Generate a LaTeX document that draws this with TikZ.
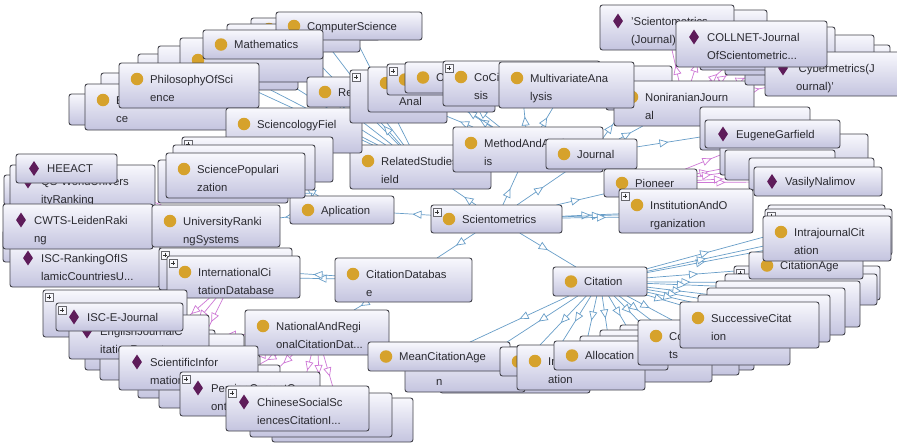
\documentclass[tikz,border=0pt]{standalone}
\usepackage{fontspec}
\setmainfont{Liberation Sans}
\usetikzlibrary{arrows.meta,decorations.markings,calc,shapes.geometric}
\pgfdeclarelayer{bglayer}
\pgfdeclarelayer{edges}
\pgfsetlayers{bglayer,edges,main}
\definecolor{boxtop}{RGB}{248,248,253}
\definecolor{boxbot}{RGB}{196,196,223}
\definecolor{boxline}{RGB}{66,66,74}
\definecolor{clsdot}{RGB}{214,162,44}
\definecolor{inddia}{RGB}{94,28,90}
\definecolor{subedge}{RGB}{104,158,200}
\definecolor{insedge}{RGB}{206,120,214}
\definecolor{txt}{RGB}{42,42,48}
\tikzset{
  obox/.style={rectangle, rounded corners=2.5pt, draw=boxline, line width=0.9pt,
    top color=boxtop, bottom color=boxbot, inner sep=0pt, outer sep=0pt},
  cls/.style={circle, fill=clsdot, minimum size=12.5pt, inner sep=0pt},
  ind/.style={diamond, fill=inddia, minimum width=10pt, minimum height=15pt, inner sep=0pt},
  lbl/.style={font=\fontsize{11.3}{13.6}\selectfont, text=txt, inner sep=0pt},
  plusbox/.style={rectangle, draw=boxline!80, line width=0.5pt, fill=boxtop,
    minimum size=8pt, inner sep=0pt,
    path picture={\draw[line width=0.7pt, black!80]
      ([xshift=1.7pt]path picture bounding box.west) -- ([xshift=-1.7pt]path picture bounding box.east)
      ([yshift=-1.7pt]path picture bounding box.north) -- ([yshift=1.7pt]path picture bounding box.south);}},
  sub/.style={draw=subedge, line width=0.7pt, postaction={decorate, decoration={markings,
    mark=at position 0.5 with {\arrow{Triangle[length=9pt,width=8pt,line width=0.7pt,color=subedge,fill=white]}}}}},
  ins/.style={draw=insedge, line width=0.7pt, postaction={decorate, decoration={markings,
    mark=at position 0.5 with {\arrow{Triangle[length=9pt,width=8pt,line width=0.7pt,color=insedge,fill=white]}}}}}
}
% name, x1, y1, x2, y2, icon style, line 1, line 2
\newcommand\cb[8]{%
  \node[obox, anchor=north west, minimum width={(#4-#2)*1pt}, minimum height={(#5-#3)*1pt}] (#1) at (#2,#3) {};
  \ifx&#8&\coordinate (#1-m) at (#2,{(#3+#5)/2});\else\coordinate (#1-m) at (#2,{#3+16});\fi
  \ifx&#6&\else\node[#6] (#1-i) at ($(#1-m)+(18,0)$) {};\fi
  \ifx&#7&\else\node[lbl, anchor=base west] (#1-a) at ($(#1-m)+(31,4.2)$) {#7};\fi
  \ifx&#8&\else\node[lbl, anchor=base west] (#1-b) at ($(#1-m)+(31,22.2)$) {#8};\fi
}
\newcommand\pb[1]{\node[plusbox] (#1-p) at ($(#1.north west)+(6,7)$) {};}
\begin{document}
\begin{tikzpicture}[x=1pt,y=-1pt]
\useasboundingbox (0,0) rectangle (897,445);
\begin{pgfonlayer}{bglayer}
\fill[white] (0,0) rectangle (897,445);
\end{pgfonlayer}

% ---------- top-left: related fields ----------
\cb{bgE}{138}{54}{278}{84}{}{}{}
\cb{bgD}{158}{46}{298}{90}{}{}{}
\cb{bgC}{180}{38}{323}{82}{cls}{}{}
\cb{bgB}{251}{18}{380}{40}{cls}{}{}
\cb{bgA}{227}{24}{360}{52}{}{}{}
\cb{CompSci}{276}{12}{422}{40}{cls}{ComputerScience}{}
\cb{Math}{203}{30}{323}{59}{cls}{Mathematics}{}
\cb{bgF}{101}{73}{235}{118}{}{}{}
\cb{bgG}{69}{94}{200}{125}{}{}{}
\cb{Ebox}{85}{84}{240}{130}{cls}{E}{ce}
\cb{Philo}{119}{63}{259}{108}{cls}{PhilosophyOfSci}{ence}
\cb{Related}{350}{145}{491}{189}{cls}{RelatedStudiesF}{ield}
\cb{Sciencology}{226}{108}{362}{153}{cls}{SciencologyFiel}{d}
\cb{Re}{307}{77}{400}{107}{cls}{Re}{}

% ---------- method and analysis stack ----------
\cb{stA}{350}{70}{447}{123}{}{}{}\pb{stA}
\cb{stB}{368}{67}{495}{112}{cls}{}{Anal}
\cb{stC}{387}{64}{450}{95}{cls}{}{}\pb{stC}
\cb{stD}{405}{62}{470}{93}{cls}{C}{}
\cb{nalbox}{606}{66}{672}{110}{cls}{nal}{}
\cb{Noniranian}{614}{81}{754}{126}{cls}{NoniranianJourn}{al}
\cb{CoCi}{443}{61}{600}{106}{cls}{CoCi}{sis}\pb{CoCi}
\cb{Multi}{499}{62}{634}{108}{cls}{MultivariateAna}{lysis}
\cb{Method}{453}{127}{603}{172}{cls}{MethodAndAnalys}{is}
\cb{Journal}{546}{139}{637}{169}{cls}{Journal}{}

% ---------- top-right: journals and pioneers ----------
\cb{bgTRa}{650}{10}{767}{45}{}{}{}
\cb{SciJ}{600}{5}{734}{50}{ind}{'Scientometrics}{(Journal)'}
\cb{bgTRd}{745}{45}{890}{85}{}{}{}
\cb{bgTRc}{725}{35}{874}{75}{}{}{}
\cb{bgTRb}{700}{27}{835}{70}{}{}{}
\cb{Cyber}{765}{52}{905}{96}{ind}{'Cybermetrics(J}{ournal)'}
\cb{COLLNET}{676}{21}{827}{67}{ind}{COLLNET-Journal}{OfScientometric...}
\cb{bgJ}{700}{107}{810}{150}{}{}{}
\cb{bgEa}{720}{134}{868}{175}{}{}{}
\cb{Eugene}{705}{120}{840}{148}{ind}{EugeneGarfield}{}
\cb{bgVa}{725}{150}{835}{180}{}{}{}
\cb{bgVb}{749}{158}{874}{190}{}{}{}
\cb{Vasily}{754}{167}{882}{196}{ind}{VasilyNalimov}{}
\cb{Pioneer}{604}{169}{697}{197}{cls}{Pioneer}{}
\cb{bgIa}{640}{195}{740}{230}{}{}{}
\cb{bgIb}{650}{200}{745}{232}{}{}{}
\cb{Institution}{619}{189}{753}{233}{cls}{InstitutionAndO}{rganization}\pb{Institution}

% ---------- centre ----------
\cb{Scientometrics}{431}{205}{562}{233}{cls}{Scientometrics}{}\pb{Scientometrics}
\cb{Aplication}{290}{196}{394}{224}{cls}{Aplication}{}
\cb{CitDB}{335}{258}{472}{302}{cls}{CitationDatabas}{e}
\cb{Citation}{553}{267}{647}{296}{cls}{Citation}{}

% ---------- left: rankings and popularization ----------
\cb{bgLa}{4}{175}{150}{205}{}{}{}
\cb{QS}{10}{165}{155}{210}{ind}{QS-WorldUnivers}{ityRanking}
\cb{HEEACT}{16}{154}{117}{183}{ind}{HEEACT}{}
\cb{bgLb}{3}{230}{150}{262}{}{}{}
\cb{ISCRank}{10}{242}{160}{287}{ind}{ISC-RankingOfIS}{lamicCountriesU...}
\cb{CWTS}{3}{204}{153}{249}{ind}{CWTS-LeidenRaki}{ng}
\cb{Univ}{152}{205}{280}{247}{cls}{UniversityRanki}{ngSystems}
\cb{bgSa}{182}{137}{333}{182}{}{}{}\pb{bgSa}
\cb{bgSb}{173}{145}{315}{190}{}{}{}
\cb{bgSc}{158}{160}{288}{203}{}{}{}
\cb{SciPop}{166}{153}{305}{198}{cls}{SciencePopulari}{zation}
\cb{bgIntl}{159}{248}{292}{290}{}{}{}\pb{bgIntl}
\cb{Intl}{167}{256}{300}{298}{cls}{InternationalCi}{tationDatabase}\pb{Intl}

% ---------- bottom-left: citation databases ----------
\cb{bgP}{43}{290}{187}{337}{}{}{}\pb{bgP}
\cb{La}{85}{330}{215}{370}{}{}{}
\cb{Lb}{100}{340}{230}{380}{}{}{}
\cb{Lc}{138}{355}{260}{398}{}{}{}
\cb{Ld}{159}{365}{280}{408}{}{}{}
\cb{bgN}{150}{334}{244}{376}{}{}{}
\cb{EngJCR}{69}{315}{209}{359}{ind}{EnglishJournalC}{itationReports}
\cb{ISCE}{56}{303}{183}{331}{ind}{ISC-E-Journal}{}\pb{ISCE}
\cb{National}{245}{310}{389}{355}{cls}{NationalAndRegi}{onalCitationDat...}
\cb{SciInf}{119}{346}{258}{390}{ind}{ScientificInfor}{mation}
\cb{Persian}{180}{372}{320}{416}{ind}{PersianCurrentC}{ontents}\pb{Persian}
\cb{bgCb}{272}{398}{413}{442}{}{}{}
\cb{bgCa}{250}{393}{392}{437}{}{}{}
\cb{Chinese}{226}{386}{369}{431}{ind}{ChineseSocialSc}{iencesCitationI...}\pb{Chinese}

% ---------- right and bottom: citation kinds ----------
\cb{rPa}{734}{266}{880}{300}{}{}{}\pb{rPa}
\cb{rPb}{725}{274}{877}{305}{}{}{}
\cb{rPc}{716}{281}{860}{327}{}{}{}
\cb{rPd}{707}{288}{845}{335}{}{}{}
\cb{rPe}{698}{295}{830}{342}{}{}{}
\cb{CitAge}{749}{252}{863}{279}{cls}{CitationAge}{}
\cb{rRa}{768}{205}{885}{235}{}{}{}
\cb{rRb}{765}{209}{892}{255}{}{}{}\pb{rRb}
\cb{Intra}{763}{216}{891}{261}{cls}{IntrajournalCit}{ation}
\cb{bBg}{440}{350}{590}{393}{}{}{}
\cb{bBf}{405}{347}{525}{392}{cls}{}{n}
\cb{Mean}{368}{342}{510}{371}{cls}{MeanCitationAge}{}
\cb{bBe}{500}{347}{600}{376}{cls}{}{}
\cb{bBa}{620}{325}{754}{370}{}{}{}
\cb{bBb}{600}{330}{739}{375}{}{}{}
\cb{bBc}{580}{336}{712}{382}{}{}{}
\cb{Ination}{517}{345}{645}{390}{cls}{In}{ation}
\cb{Allocation}{554}{341}{668}{370}{cls}{Allocation}{}
\cb{Coots}{638}{320}{790}{365}{cls}{Co}{ts}
\cb{Successive}{680}{302}{819}{348}{cls}{SuccessiveCitat}{ion}

% ---------- connectors ----------
\begin{pgfonlayer}{edges}
\foreach \nn in {Aplication,Related,Method,Journal,Pioneer,Institution,bgIa,bgIb,CitDB,Citation}
  \draw[sub] (Scientometrics) -- (\nn);
\foreach \nn in {Univ,SciPop,bgSa,bgSb,bgSc}
  \draw[sub] (Aplication) -- (\nn);
\foreach \nn in {CompSci,Math,bgA,bgB,bgC,bgD,bgE,bgF,bgG,Ebox,Philo,Sciencology,Re}
  \draw[sub] (Related) -- (\nn);
\foreach \nn in {stA,stB,stC,stD,CoCi,Multi}
  \draw[sub] (Method) -- (\nn);
\foreach \nn in {Noniranian,nalbox,bgJ}
  \draw[sub] (Journal) -- (\nn);
\foreach \nn in {Intl,bgIntl,National}
  \draw[sub] (CitDB) -- (\nn);
\foreach \nn in {Intra,rRa,rRb,CitAge,rPa,rPb,rPc,rPd,rPe,Successive,Coots,bBa,bBb,bBc,Allocation,Ination,bBe,Mean,bBf,bBg}
  \draw[sub] (Citation) -- (\nn);
\foreach \nn in {SciJ,COLLNET,Cyber,bgTRa,bgTRb,bgTRc}
  \draw[ins] (Noniranian) -- (\nn);
\foreach \nn in {Eugene,Vasily,bgEa,bgVa,bgVb}
  \draw[ins] (Pioneer) -- (\nn);
\foreach \nn in {HEEACT,QS,CWTS,ISCRank,bgLa,bgLb}
  \draw[ins] (Univ) -- (\nn);
\foreach \nn in {ISCE,bgP,La,Lb,SciInf}
  \draw[ins] (Intl) -- (\nn);
\foreach \nn in {EngJCR,Persian,Chinese,bgCa,bgCb,Lc,Ld}
  \draw[ins] (National) -- (\nn);
\end{pgfonlayer}
\end{tikzpicture}
\end{document}
